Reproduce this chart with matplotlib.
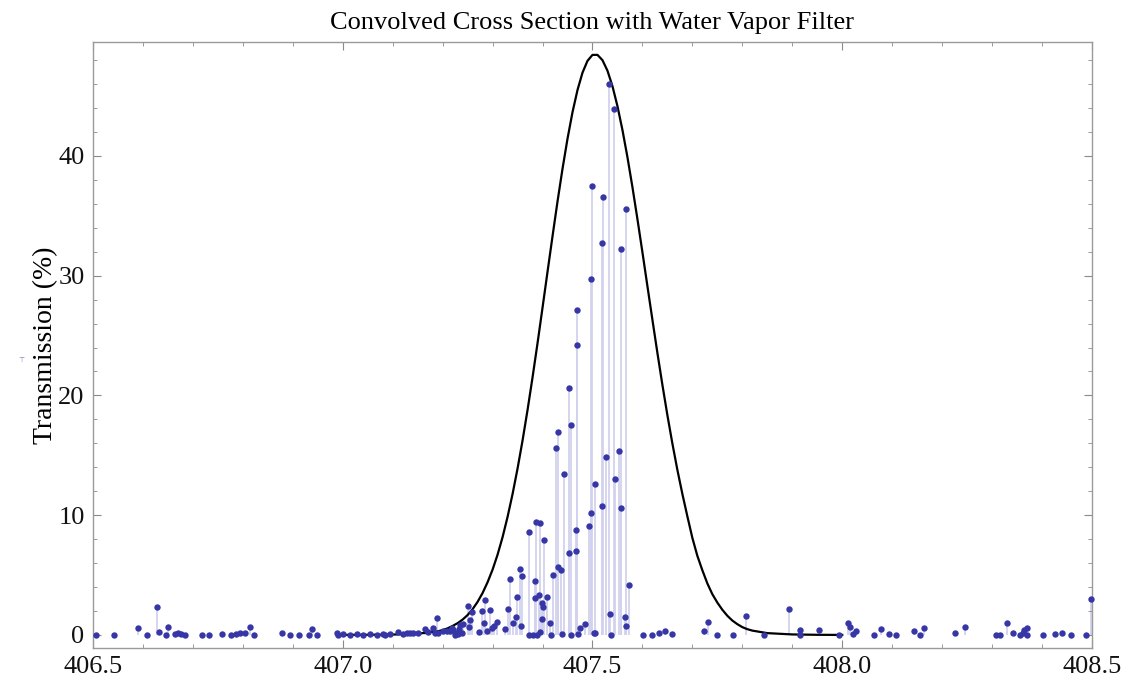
import matplotlib
matplotlib.use("Agg")
import matplotlib.pyplot as plt
from matplotlib.ticker import MultipleLocator, FormatStrFormatter

# convolved cross section, sampled lines (wavelength nm, transmission %)
line_wl = [
    406.507, 406.543, 406.591, 406.609, 406.629, 406.632, 406.646, 406.650,
    406.664, 406.671, 406.676, 406.685, 406.718, 406.733, 406.759, 406.777,
    406.787, 406.794, 406.805, 406.814, 406.823, 406.878, 406.894, 406.913,
    406.933, 406.938, 406.948, 406.988, 406.991, 407.001, 407.015, 407.028,
    407.041, 407.055, 407.068, 407.081, 407.085, 407.095, 407.111, 407.121,
    407.128, 407.135, 407.141, 407.151, 407.165, 407.171, 407.181, 407.185,
    407.188, 407.191, 407.201, 407.208, 407.215, 407.218, 407.221, 407.225,
    407.227, 407.230, 407.232, 407.235, 407.238, 407.240, 407.250, 407.253,
    407.255, 407.259, 407.273, 407.279, 407.283, 407.285, 407.288, 407.295,
    407.298, 407.303, 407.308, 407.325, 407.331, 407.335, 407.341, 407.347,
    407.348, 407.354, 407.356, 407.358, 407.372, 407.373, 407.380, 407.385,
    407.385, 407.387, 407.388, 407.393, 407.395, 407.395, 407.398, 407.398,
    407.400, 407.403, 407.409, 407.415, 407.416, 407.420, 407.426, 407.430,
    407.431, 407.436, 407.438, 407.444, 407.453, 407.454, 407.457, 407.458,
    407.467, 407.468, 407.470, 407.470, 407.472, 407.475, 407.485, 407.494,
    407.498, 407.498, 407.500, 407.503, 407.505, 407.505, 407.519, 407.519,
    407.522, 407.527, 407.533, 407.535, 407.538, 407.543, 407.545, 407.554,
    407.558, 407.558, 407.565, 407.567, 407.568, 407.574, 407.602, 407.620,
    407.634, 407.645, 407.659, 407.724, 407.731, 407.749, 407.782, 407.807,
    407.843, 407.894, 407.915, 407.915, 407.953, 407.994, 408.011, 408.016,
    408.022, 408.027, 408.064, 408.078, 408.094, 408.108, 408.144, 408.156,
    408.164, 408.226, 408.246, 408.308, 408.316, 408.329, 408.342, 408.356,
    408.361, 408.364, 408.369, 408.370, 408.401, 408.425, 408.439, 408.457,
    408.488, 408.499,
]
line_pct = [
    0.0, 0.0, 0.56, 0.0, 2.37, 0.22, 0.0, 0.70,
    0.10, 0.15, 0.10, 0.0, 0.0, 0.0, 0.05, 0.0,
    0.10, 0.12, 0.15, 0.70, 0.0, 0.14, 0.0, 0.0,
    0.0, 0.47, 0.0, 0.14, 0.0, 0.05, 0.0, 0.10,
    0.0, 0.05, 0.0, 0.10, 0.0, 0.05, 0.28, 0.05,
    0.20, 0.15, 0.15, 0.15, 0.50, 0.28, 0.56, 0.14,
    1.45, 0.15, 0.30, 0.30, 0.30, 0.60, 0.42, 0.0,
    0.14, 0.05, 0.50, 0.83, 0.20, 0.92, 2.45, 0.70,
    1.25, 1.90, 0.28, 2.03, 0.98, 2.92, 0.36, 2.09,
    0.56, 0.78, 1.09, 0.50, 2.17, 4.70, 0.97, 1.53,
    3.15, 5.50, 0.78, 4.90, 0.0, 8.60, 0.0, 4.50,
    3.10, 9.46, 0.0, 3.30, 9.38, 0.22, 2.70, 1.34,
    2.30, 7.90, 3.20, 1.03, 0.0, 5.00, 15.6, 16.95,
    5.70, 5.40, 0.10, 13.4, 20.6, 6.80, 17.5, 0.0,
    7.05, 8.80, 27.1, 24.2, 0.10, 0.60, 0.90, 9.10,
    29.75, 10.2, 37.5, 0.15, 12.6, 0.20, 32.7, 10.8,
    36.6, 14.9, 46.0, 1.73, 0.0, 43.9, 13.0, 15.35,
    32.2, 10.6, 1.48, 35.6, 0.75, 4.20, 0.0, 0.0,
    0.14, 0.33, 0.06, 0.36, 1.09, 0.0, 0.0, 1.59,
    0.0, 2.14, 0.42, 0.03, 0.42, 0.0, 1.03, 0.64,
    0.08, 0.30, 0.0, 0.50, 0.08, 0.0, 0.30, 0.0,
    0.58, 0.20, 0.64, 0.0, 0.0, 1.03, 0.14, 0.03,
    0.20, 0.42, 0.58, 0.0, 0.0, 0.08, 0.14, 0.0,
    0.0, 2.98,
]

# water vapor filter transmission curve
filter_wl = [
    407.00, 407.05, 407.10, 407.15, 407.19,
    407.20, 407.21, 407.22, 407.23, 407.24, 407.25, 407.26, 407.27, 407.28, 407.29,
    407.30, 407.31, 407.32, 407.33, 407.34, 407.35, 407.36, 407.37, 407.38, 407.39,
    407.40, 407.41, 407.42, 407.43, 407.44, 407.45, 407.46, 407.47, 407.48, 407.49,
    407.50, 407.51, 407.52, 407.53, 407.54, 407.55, 407.56, 407.57, 407.58, 407.59,
    407.60, 407.61, 407.62, 407.63, 407.64, 407.65, 407.66, 407.67, 407.68, 407.69,
    407.70, 407.71, 407.72, 407.73, 407.74, 407.75, 407.76, 407.77, 407.78, 407.79,
    407.80, 407.81, 407.82, 407.85, 407.90, 407.95, 408.00,
]
filter_pct = [
    0.0, 0.01, 0.03, 0.10, 0.30,
    0.40, 0.55, 0.75, 0.98, 1.28, 1.66, 2.15, 2.76, 3.50, 4.40,
    5.45, 6.70, 8.16, 9.85, 11.76, 13.89, 16.23, 18.78, 21.50, 24.36,
    27.32, 30.32, 33.29, 36.19, 38.92, 41.43, 43.65, 45.50, 46.95, 47.94,
    48.44, 48.44, 48.00, 47.12, 45.83, 44.16, 42.17, 39.90, 37.40, 34.73,
    31.96, 29.13, 26.32, 23.55, 20.88, 18.35, 15.98, 13.78, 11.77, 9.90,
    8.10, 6.60, 5.40, 4.30, 3.40, 2.70, 2.10, 1.60, 1.20, 0.90,
    0.65, 0.48, 0.36, 0.15, 0.04, 0.01, 0.0,
]

plt.rcParams['font.family'] = ['Liberation Serif', 'DejaVu Serif']

fig = plt.figure(figsize=(11.35, 6.81), dpi=100)
ax = fig.add_axes([0.0819, 0.0485, 0.8802, 0.8899])

# stems
ax.vlines(line_wl, 0, line_pct, colors='#d2d2ee', linewidth=1.3, zorder=1)
# points
ax.plot(line_wl, line_pct, 'o', color='#3636a6', markersize=4.6,
        markeredgewidth=0, zorder=3, clip_on=False)
# filter
ax.plot(filter_wl, filter_pct, '-', color='black', linewidth=1.6, zorder=2)

ax.set_xlim(406.5, 408.5)
ax.set_ylim(-1.09, 49.52)

ax.xaxis.set_major_locator(MultipleLocator(0.5))
ax.xaxis.set_minor_locator(MultipleLocator(0.1))
ax.yaxis.set_major_locator(MultipleLocator(10))
ax.yaxis.set_minor_locator(MultipleLocator(2))
ax.xaxis.set_major_formatter(FormatStrFormatter('%.1f'))

ax.tick_params(which='both', direction='in', top=True, right=True,
               color='#8a8a8a', labelsize=19, labelcolor='#111111')
ax.tick_params(which='major', length=6, width=0.8, pad=6)
ax.tick_params(which='minor', length=3, width=0.6)
for s in ax.spines.values():
    s.set_color('#9a9a9a')
    s.set_linewidth(1.0)

ax.set_title('Convolved Cross Section with Water Vapor Filter', fontsize=19, pad=9)
ax.set_ylabel('Transmission (%)', fontsize=20, labelpad=0)
fig.text(0.016, 0.468, '\u22a4', fontsize=5, color='#7f7fbf', family='DejaVu Sans')

fig.savefig('out.png', dpi=100)
